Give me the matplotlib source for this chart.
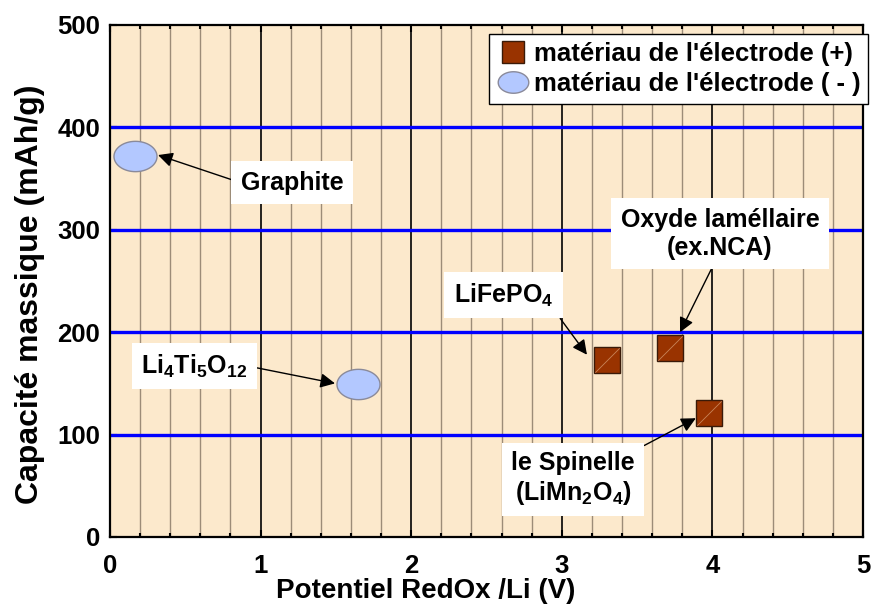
import numpy as np
import matplotlib
matplotlib.use("Agg")
import matplotlib.pyplot as plt
from matplotlib.path import Path
from matplotlib.lines import Line2D

plt.rcParams['font.family'] = ['Liberation Sans', 'DejaVu Sans']
plt.rcParams['font.weight'] = 'bold'
plt.rcParams['mathtext.fontset'] = 'custom'
plt.rcParams['mathtext.rm'] = 'Liberation Sans:bold'
plt.rcParams['mathtext.bf'] = 'Liberation Sans:bold'
plt.rcParams['mathtext.it'] = 'Liberation Sans:bold'

# Data
pos_names = ["LiFePO$_4$", "Oxyde laméllaire\n(ex.NCA)", "le Spinelle\n(LiMn$_2$O$_4$)"]
pos_x = [3.30, 3.72, 3.98]
pos_y = [173, 185, 121]
neg_names = ["Graphite", "Li$_4$Ti$_5$O$_{12}$"]
neg_x = [0.166, 1.65]
neg_y = [372, 149]
legend_labels = ["matériau de l'électrode (+)", "matériau de l'électrode ( - )"]
x_ticks = [0, 1, 2, 3, 4, 5]
y_ticks = [0, 100, 200, 300, 400, 500]
blue_levels = [100, 200, 300, 400]

fig = plt.figure(figsize=(8.81, 6.07), dpi=100)
ax = fig.add_axes([110/881, 1-537/607, 753/881, 512/607])
ax.set_facecolor('#FCE9CC')
ax.set_xlim(0, 5)
ax.set_ylim(0, 500)

# grid
for v in np.arange(0.2, 5.0, 0.2):
    if abs(v - round(v)) < 1e-6:
        ax.axvline(v, color='black', lw=1.2, zorder=1)
    else:
        ax.axvline(v, color='#9C8C78', lw=1.0, zorder=1)
for h in blue_levels:
    ax.axhline(h, color='#0000FF', lw=2.4, zorder=2)

# ellipse marker
t = np.linspace(0, 2*np.pi, 80)
ell = Path(np.column_stack([1.42*np.cos(t), np.sin(t)]), closed=True)
diag = Path([(-0.5, -0.5), (0.5, 0.5)])

sq_color = '#993300'
el_color = '#B3C8FF'
ax.plot(pos_x, pos_y, ls='none', marker='s', ms=18.7, mfc=sq_color,
        mec='#3a1a08', mew=1.0, zorder=5)
ax.plot(pos_x, pos_y, ls='none', marker=diag, ms=17.5, mec='#C8845A',
        mew=0.6, zorder=5.5)
ax.plot(neg_x, neg_y, ls='none', marker=ell, ms=31, mfc=el_color,
        mec='#8a8a9a', mew=1.0, zorder=5)

bbox = dict(boxstyle='square,pad=0.38', fc='white', ec='none')
arrow = dict(arrowstyle='-|>', color='black', lw=1.0, mutation_scale=22,
             shrinkA=0, shrinkB=0)

def ann(text, xy, xytext, relpos, fs=18):
    a = dict(arrow)
    a['relpos'] = relpos
    ax.annotate(text, xy=xy, xytext=xytext, ha='center', va='center',
                fontsize=fs, fontweight='bold', bbox=bbox, arrowprops=a,
                multialignment='center', zorder=6)

ann(neg_names[0], (0.319, 373), (1.208, 346), (0.0, 0.5))
ann(neg_names[1], (1.494, 150), (0.561, 167), (1.0, 0.5))
ann(pos_names[0], (3.167, 178), (2.613, 236), (1.0, 0.0))
ann(pos_names[1], (3.785, 200), (4.05, 296), (0.48, 0.0))
ann(pos_names[2], (3.89, 116), (3.074, 57), (1.0, 1.0))

ax.set_xticks(x_ticks)
ax.set_yticks(y_ticks)
ax.set_xticks(np.arange(0, 5.01, 0.2), minor=True)
ax.tick_params(axis='both', which='major', direction='in', length=5, width=1.5,
               top=True, right=False, labelsize=18.5)
ax.tick_params(axis='x', which='major', pad=12)
ax.tick_params(axis='y', which='major', pad=7)
ax.tick_params(axis='x', which='minor', direction='in', length=3, width=1.5,
               top=True)
for lab in ax.get_xticklabels() + ax.get_yticklabels():
    lab.set_fontweight('bold')
for s in ax.spines.values():
    s.set_linewidth(1.6)
    s.set_color('black')

ax.set_xlabel('Potentiel RedOx /Li (V)', fontsize=20, fontweight='bold')
ax.set_ylabel('Capacité massique (mAh/g)', fontsize=23, fontweight='bold')
ax.xaxis.set_label_coords((426-110)/753, -0.080)
ax.yaxis.set_label_coords(-0.106, (537-294.5)/512)
ax.xaxis.label.set_va('top')
ax.yaxis.label.set_va('center')

handles = [Line2D([], [], ls='none', marker='s', ms=16, mfc=sq_color, mec='#3a1a08'),
           Line2D([], [], ls='none', marker=ell, ms=22, mfc=el_color, mec='#8a8a9a')]
leg = fig.legend(handles, legend_labels,
                 loc='upper right', bbox_to_anchor=(868/881, 1-34/607),
                 prop={'size': 18.5, 'weight': 'bold'}, fancybox=False,
                 framealpha=1, edgecolor='black', handletextpad=0.15,
                 handlelength=1.3, borderpad=0.3, labelspacing=0.25,
                 borderaxespad=0)
leg.get_frame().set_linewidth(1.0)
leg.set_zorder(10)

fig.savefig('out.png', dpi=100)
